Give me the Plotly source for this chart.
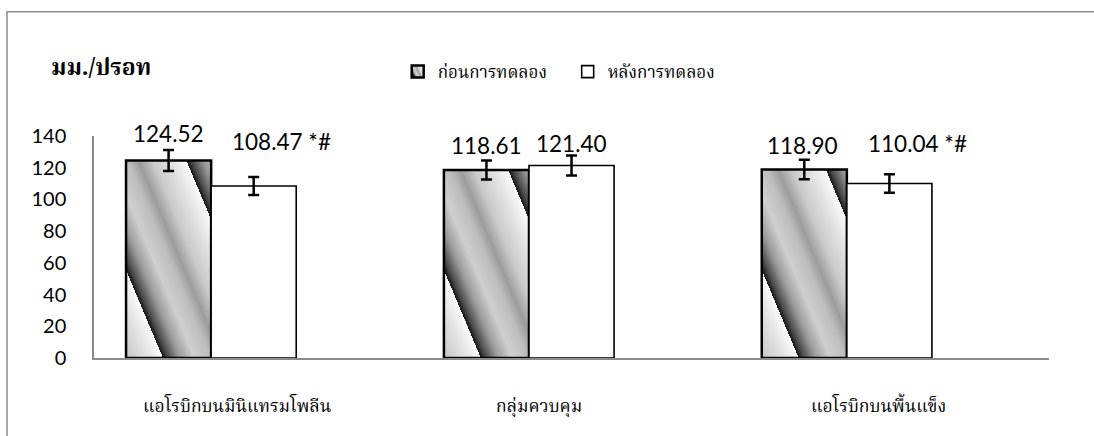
import plotly.graph_objects as go

# ---- data -------------------------------------------------------------
categories = ["แอโรบิกบนมินิแทรมโพลีน", "กลุ่มควบคุม", "แอโรบิกบนพื้นแข็ง"]
series_names = ["ก่อนการทดลอง", "หลังการทดลอง"]
pre_values = [124.52, 118.61, 118.90]
post_values = [108.47, 121.40, 110.04]
pre_sd = [6.6, 6.0, 6.1]
post_sd = [5.6, 6.3, 5.8]
pre_marks = ["", "", ""]
post_marks = [" *#", "", " *#"]
y_ticks = [0, 20, 40, 60, 80, 100, 120, 140]
y_unit = "มม./ปรอท"

# ---- styling ----------------------------------------------------------
NUM_FONT = "Lato, Carlito, Calibri, sans-serif"
THAI_FONT = "Angsana New, Norasi, Tlwg Typo, Noto Serif Thai, Noto Sans Thai, serif"

group_x = list(range(len(categories)))
bar_w = 0.2677            # width of one bar in category units
half = bar_w / 2

fig = go.Figure()
fig.add_trace(go.Bar(
    x=[g - half for g in group_x], y=pre_values, width=bar_w,
    name=series_names[0],
    marker=dict(color="#c8c8c8", line=dict(color="#000000", width=2.5)),
    error_y=dict(type="data", array=pre_sd, color="#000000", thickness=2.5, width=5.5),
))
fig.add_trace(go.Bar(
    x=[g + half for g in group_x], y=post_values, width=bar_w,
    name=series_names[1],
    marker=dict(color="#ffffff", line=dict(color="#000000", width=1.6)),
    error_y=dict(type="data", array=post_sd, color="#000000", thickness=2.5, width=5.5),
))

# value labels above the bars (pixel nudges: dx, dy)
pre_shift = [(0, 27), (0, 24), (-2, 24)]
post_shift = [(28, 45), (0, 22), (28, 40)]
for g, v, m, (dx, dy) in zip(group_x, pre_values, pre_marks, pre_shift):
    fig.add_annotation(x=g - half, y=v, text=f"{v:.2f}{m}", showarrow=False,
                       xshift=dx, yshift=dy, font=dict(family=NUM_FONT, size=22.5, color="#000"))
for g, v, m, (dx, dy) in zip(group_x, post_values, post_marks, post_shift):
    fig.add_annotation(x=g + half, y=v, text=f"{v:.2f}{m}", showarrow=False,
                       xshift=dx, yshift=dy, font=dict(family=NUM_FONT, size=22.5, color="#000"))

# unit title
fig.add_annotation(xref="paper", yref="paper", x=-0.047, y=1.30, xanchor="left", yanchor="middle",
                   text=f"<b>{y_unit}</b>", showarrow=False,
                   font=dict(family=THAI_FONT, size=23, color="#000"))

# outer frame (runs off the right and bottom edges)
fig.add_shape(type="rect", xref="paper", yref="paper", x0=-0.0911, x1=1.2, y0=-0.6, y1=1.56,
              line=dict(color="#8c8c8c", width=1.5), fillcolor="rgba(0,0,0,0)")

label_offsets = [0.082, 0.0315, 0.10]
fig.update_layout(
    width=1094, height=436,
    margin=dict(l=94, r=45, t=136, b=78),
    paper_bgcolor="#ffffff", plot_bgcolor="#ffffff",
    barmode="overlay",
    showlegend=True,
    legend=dict(orientation="h", x=0.318, y=1.288, xanchor="left", yanchor="middle",
                font=dict(family=THAI_FONT, size=17, color="#000"),
                entrywidth=125, entrywidthmode="pixels", bgcolor="rgba(0,0,0,0)"),
    xaxis=dict(range=[-0.3685, 2.636], showgrid=False, zeroline=False,
               showline=True, linecolor="#8c8c8c", linewidth=1.5,
               tickvals=[g + o for g, o in zip(group_x, label_offsets)], ticktext=categories,
               ticks="", ticklabelstandoff=31,
               tickfont=dict(family=THAI_FONT, size=17.5, color="#000")),
    yaxis=dict(range=[0, 140], tickvals=y_ticks, showgrid=False, zeroline=False,
               showline=True, linecolor="#8c8c8c", linewidth=1.5,
               ticks="", ticklabelstandoff=22,
               tickfont=dict(family=NUM_FONT, size=20, color="#000")),
)

# diagonal metallic gradient fill for the "before" bars and their legend key
post_script = r"""
var gd = document.getElementById('{plot_id}');
var NS = 'http://www.w3.org/2000/svg';
var STOPS = [[0,'#151515'],[0.05,'#4a4a4a'],[0.16,'#9a9a9a'],[0.3,'#cfcfcf'],
             [0.45,'#bdbdbd'],[0.55,'#9c9c9c'],[0.68,'#c9c9c9'],[0.88,'#e6e6e6'],[1,'#fbfbfb']];
function makeGrad(defs, id, attrs){
  var old = document.getElementById(id); if (old) old.remove();
  var g = document.createElementNS(NS, 'linearGradient');
  g.setAttribute('id', id);
  for (var k in attrs) g.setAttribute(k, attrs[k]);
  STOPS.forEach(function(s){
    var st = document.createElementNS(NS, 'stop');
    st.setAttribute('offset', s[0]); st.setAttribute('stop-color', s[1]);
    g.appendChild(st);
  });
  defs.appendChild(g);
}
function paint(){
  var svg = gd.querySelector('svg.main-svg');
  var defs = svg.querySelector('defs');
  var traces = gd.querySelectorAll('.barlayer .trace');
  if (!traces.length) return;
  traces[0].querySelectorAll('.point path').forEach(function(p, i){
    var bb = p.getBBox();
    var x0 = bb.x, y0 = bb.y + bb.height - 88;
    var id = 'pregrad' + i;
    makeGrad(defs, id, {gradientUnits:'userSpaceOnUse', spreadMethod:'repeat',
      x1:x0, y1:y0, x2:x0 + 98*0.922, y2:y0 - 98*0.387});
    p.style.fill = 'url(#' + id + ')';
  });
  var leg = gd.querySelectorAll('.legend .traces');
  if (leg.length){
    makeGrad(defs, 'pregradleg', {x1:0.1, y1:0.7, x2:0.9, y2:0.3});
    leg[0].querySelectorAll('.legendpoints path').forEach(function(p){
      p.style.fill = 'url(#pregradleg)';
    });
  }
}
paint();
gd.on('plotly_afterplot', paint);
"""

fig.write_html("out.html", post_script=post_script)
